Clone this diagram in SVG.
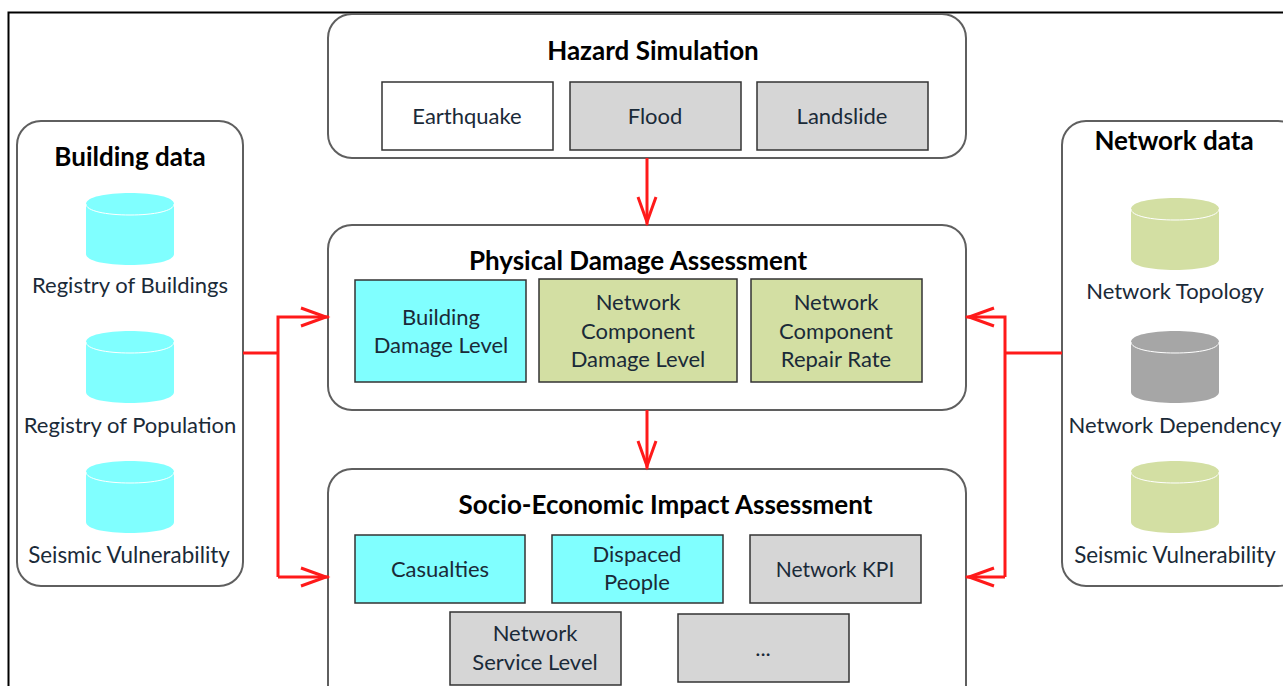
<svg xmlns="http://www.w3.org/2000/svg" width="1283" height="686" viewBox="0 0 1283 686">
<style>
text{font-family:"Lato","Open Sans","Liberation Sans",sans-serif;fill:#1a2a38;text-anchor:middle;font-size:22px}
.h{font-weight:700;font-size:26px;fill:#000}
.s{font-size:22.400px}
.k{font-size:21px}
.p{fill:#fff;stroke:#5f5f5f;stroke-width:2}
.b{stroke:#333;stroke-width:1.5}
.w{fill:#fff}.g{fill:#d6d6d6}.c{fill:#80ffff}.o{fill:#d3dfa3}
.cb{fill:#80ffff}.co{fill:#d3dfa3}.cg{fill:#a6a6a6}
.lid{fill:none;stroke:#fff;stroke-width:1}
.f{fill:none;stroke:#ff1a1a;stroke-width:3}
</style>
<defs>
<g id="cyl"><path d="M0 11C0 4 20 0 44 0S88 4 88 11V61C88 68 68 72 44 72S0 68 0 61Z"/><path class="lid" d="M0 11C0 18 20 22 44 22S88 18 88 11"/></g>
<marker id="a" markerUnits="userSpaceOnUse" markerWidth="34" markerHeight="24" refX="30" refY="12" orient="auto"><path d="M2 3L27 12L2 21" fill="none" stroke="#ff1a1a" stroke-width="3"/></marker>
</defs>
<path id="frame" d="M8.500 686V12.500H1283" fill="none" stroke="#000" stroke-width="2"/>
<g id="building-data"><rect class="p" x="17" y="121" width="226" height="465" rx="24"/><text class="h" x="130" y="166">Building data</text>
<use href="#cyl" x="86" y="193" class="cb"/><text x="130" y="293">Registry of Buildings</text>
<use href="#cyl" x="86" y="331" class="cb"/><text x="130" y="433">Registry of Population</text>
<use href="#cyl" x="86" y="461" class="cb"/><text class="s" x="129" y="563">Seismic Vulnerability</text></g>
<g id="network-data"><rect class="p" x="1062" y="121" width="240" height="465" rx="24"/><text class="h" x="1174" y="150">Network data</text>
<use href="#cyl" x="1131" y="198" class="co"/><text x="1175" y="299">Network Topology</text>
<use href="#cyl" x="1131" y="331" class="cg"/><text x="1175" y="433">Network Dependency</text>
<use href="#cyl" x="1131" y="461" class="co"/><text class="s" x="1175" y="563">Seismic Vulnerability</text></g>
<g id="hazard"><rect class="p" x="328" y="14" width="638" height="144" rx="24"/><text class="h" x="653" y="60">Hazard Simulation</text>
<rect class="b w" x="382" y="82" width="171" height="68"/><text x="467" y="124">Earthquake</text>
<rect class="b g" x="570" y="82" width="171" height="68"/><text x="655" y="124">Flood</text>
<rect class="b g" x="757" y="82" width="171" height="68"/><text x="842" y="124">Landslide</text></g>
<g id="physical"><rect class="p" x="328" y="225" width="638" height="185" rx="24"/><text class="h" x="638" y="270">Physical Damage Assessment</text>
<rect class="b c" x="355" y="280" width="171" height="102"/><text x="441" y="325">Building</text><text x="441" y="353">Damage Level</text>
<rect class="b o" x="539" y="279" width="198" height="103"/><text x="638" y="310">Network</text><text x="638" y="339">Component</text><text x="638" y="367">Damage Level</text>
<rect class="b o" x="751" y="279" width="171" height="103"/><text x="836" y="310">Network</text><text x="836" y="339">Component</text><text x="836" y="367">Repair Rate</text></g>
<g id="socio"><rect class="p" x="328" y="469" width="638" height="240" rx="24"/><text class="h" x="665.500" y="514">Socio-Economic Impact Assessment</text>
<rect class="b c" x="355" y="535" width="170" height="68"/><text x="440" y="577">Casualties</text>
<rect class="b c" x="552" y="535" width="171" height="68"/><text x="637" y="562">Dispaced</text><text x="637" y="590">People</text>
<rect class="b g" x="750" y="535" width="171" height="68"/><text class="k" x="835" y="577">Network KPI</text>
<rect class="b g" x="450" y="612" width="171" height="73"/><text x="535" y="641">Network</text><text x="535" y="670">Service Level</text>
<rect class="b g" x="678" y="614" width="171" height="68"/><text x="763" y="656">...</text></g>
<g id="connectors">
<path class="f" d="M647 158V225" marker-end="url(#a)"/>
<path class="f" d="M647 410V469" marker-end="url(#a)"/>
<path class="f" d="M243 353H278"/>
<path class="f" d="M278 577V317H329" marker-end="url(#a)"/>
<path class="f" d="M278 577H329" marker-end="url(#a)"/>
<path class="f" d="M1062 353H1005"/>
<path class="f" d="M1005 577V317H966" marker-end="url(#a)"/>
<path class="f" d="M1005 577H966" marker-end="url(#a)"/>
</g>
</svg>
